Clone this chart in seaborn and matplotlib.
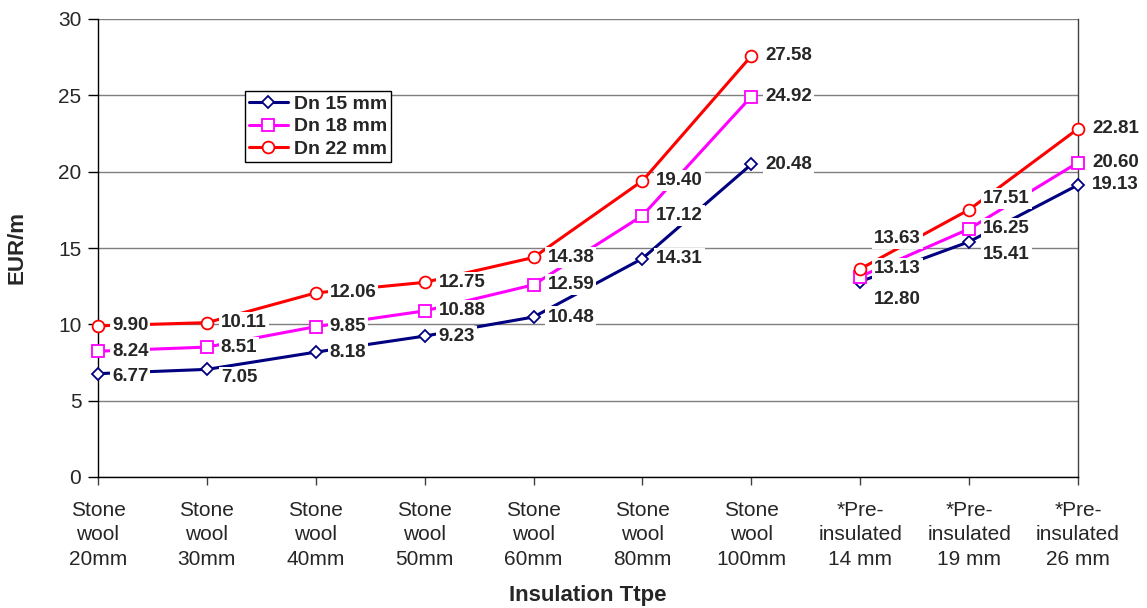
import numpy as np
import pandas as pd
import matplotlib
matplotlib.use("Agg")
import matplotlib.pyplot as plt
from matplotlib.lines import Line2D
import seaborn as sns

categories = ["Stone\nwool\n20mm", "Stone\nwool\n30mm", "Stone\nwool\n40mm", "Stone\nwool\n50mm",
              "Stone\nwool\n60mm", "Stone\nwool\n80mm", "Stone\nwool\n100mm",
              "*Pre-\ninsulated\n14 mm", "*Pre-\ninsulated\n19 mm", "*Pre-\ninsulated\n26 mm"]
segment = [0, 0, 0, 0, 0, 0, 0, 1, 1, 1]
dn15 = [6.77, 7.05, 8.18, 9.23, 10.48, 14.31, 20.48, 12.80, 15.41, 19.13]
dn18 = [8.24, 8.51, 9.85, 10.88, 12.59, 17.12, 24.92, 13.13, 16.25, 20.60]
dn22 = [9.90, 10.11, 12.06, 12.75, 14.38, 19.40, 27.58, 13.63, 17.51, 22.81]
series_names = ["Dn 15 mm", "Dn 18 mm", "Dn 22 mm"]

# styling
colors = ["#000080", "#FF00FF", "#FF0000"]
markers = ["D", "s", "o"]
msizes = [6.5, 8.5, 8.5]
# vertical label offsets (points) per series
label_dy = [
    [-2, -6, 0, 0, 0, 0, 0, -13, -9, 0],
    [0, 0, 0, 0, 0, 0, 0, 6, 0, 0],
    [0, 0, 0, 0, 0, 0, 0, 22, 8, 0],
]

sns.set_theme(style="white")
plt.rcParams["font.family"] = ["Liberation Sans", "DejaVu Sans"]

fig = plt.figure(figsize=(11.47, 6.08), dpi=100)
ax = fig.add_axes([98/1147, 1-477/608, 980/1147, 458/608])

x = np.arange(len(categories))
handles = []
for name, vals, c, m, ms in zip(series_names, [dn15, dn18, dn22], colors, markers, msizes):
    df = pd.DataFrame({"x": x, "y": vals, "seg": segment})
    sns.lineplot(data=df, x="x", y="y", units="seg", estimator=None, ax=ax,
                 color=c, marker=m, markersize=ms, markerfacecolor="white",
                 markeredgecolor=c, markeredgewidth=1.3, linewidth=2.2,
                 zorder=3, clip_on=False, legend=False)
    handles.append(Line2D([], [], color=c, marker=m, markersize=ms, markerfacecolor="white",
                          markeredgecolor=c, markeredgewidth=1.3, linewidth=2.2, label=name))

for vals, dys in zip([dn15, dn18, dn22], label_dy):
    for xi, v, dy in zip(x, vals, dys):
        ax.annotate(f"{v:.2f}", (xi, v), xytext=(10, dy), textcoords="offset points",
                    ha="left", va="center", fontsize=13.5, fontweight="bold",
                    bbox=dict(facecolor="white", edgecolor="none", pad=1.5), zorder=5)

ax.set_xlim(0, 9)
ax.set_ylim(0, 30)
ax.set_yticks(np.arange(0, 31, 5))
ax.set_xticks(x)
ax.set_xticklabels(categories, fontsize=15, linespacing=1.38)
ax.tick_params(axis="y", labelsize=15, direction="out", length=7, width=1, color="black", left=True, pad=5)
ax.tick_params(axis="x", direction="out", length=6, width=1, color="#404040", bottom=True, pad=11)
ax.yaxis.grid(True, color="#7f7f7f", linewidth=1)
ax.xaxis.grid(False)
ax.set_axisbelow(True)
for s in ["left", "bottom"]:
    ax.spines[s].set_color("black")
    ax.spines[s].set_linewidth(1)
ax.spines["right"].set_color("#404040")
ax.spines["right"].set_linewidth(1)
ax.spines["top"].set_visible(False)

ax.set_xlabel("Insulation Ttpe", fontsize=16, fontweight="bold", va="center")
ax.xaxis.set_label_coords(0.5, -0.258)
ax.set_ylabel("EUR/m", fontsize=16, fontweight="bold", labelpad=22)

leg = ax.legend(handles=handles, loc="upper left", bbox_to_anchor=(0.15, 0.842), frameon=True,
                fancybox=False, framealpha=1, edgecolor="black", prop={"weight": "bold", "size": 14},
                handlelength=2.0, borderpad=0.2, labelspacing=0.25, handletextpad=0.3,
                borderaxespad=0)
leg.get_frame().set_linewidth(1)
leg.set_zorder(6)

fig.savefig("out.png", dpi=100)
